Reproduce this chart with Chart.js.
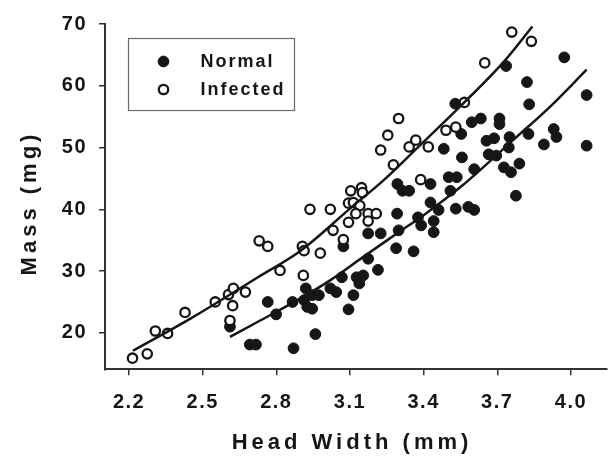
<!DOCTYPE html>
<html>
<head>
<meta charset="utf-8">
<script src="https://cdn.jsdelivr.net/npm/chart.js@4/dist/chart.umd.min.js"></script>
<style>
  html, body { margin: 0; padding: 0; background: #fff; }
</style>
</head>
<body>
<canvas id="chart" width="614" height="461"></canvas>
<script>
const xTicks = [2.2, 2.5, 2.8, 3.1, 3.4, 3.7, 4.0]
const yTicks = [20, 30, 40, 50, 60, 70]

// Normal (filled circles)
const normalX = [2.611, 2.692, 2.717, 2.765, 2.799, 2.866, 2.870, 2.913, 2.920, 2.926,
  2.946, 2.946, 2.959, 2.973, 3.020, 3.044, 3.067, 3.073, 3.094, 3.114,
  3.127, 3.138, 3.154, 3.174, 3.174, 3.214, 3.225, 3.288, 3.292, 3.298,
  3.293, 3.314, 3.341, 3.359, 3.377, 3.390, 3.428, 3.428, 3.441, 3.441,
  3.461, 3.482, 3.502, 3.509, 3.529, 3.531, 3.535, 3.553, 3.556, 3.582,
  3.596, 3.606, 3.606, 3.633, 3.656, 3.665, 3.687, 3.696, 3.709, 3.709,
  3.727, 3.736, 3.747, 3.750, 3.756, 3.776, 3.790, 3.821, 3.827, 3.830,
  3.890, 3.930, 3.941, 3.973, 4.064, 4.064]
const normalY = [21.0, 18.1, 18.1, 25.0, 23.0, 25.0, 17.5, 25.3, 27.2, 24.2,
  23.9, 26.1, 19.8, 26.1, 27.2, 26.6, 29.0, 34.0, 23.8, 26.1,
  29.0, 28.0, 29.3, 32.0, 36.1, 30.2, 36.1, 33.7, 39.3, 36.6,
  44.1, 43.0, 43.0, 33.2, 38.7, 37.4, 44.1, 41.1, 38.1, 36.3,
  39.9, 49.8, 45.2, 43.0, 57.1, 40.1, 45.2, 52.2, 48.4, 40.4,
  54.1, 46.5, 39.9, 54.7, 51.1, 48.9, 51.5, 48.7, 54.7, 53.8,
  46.8, 63.2, 50.0, 51.7, 46.0, 42.2, 47.4, 60.6, 52.2, 57.0,
  50.5, 53.0, 51.7, 64.6, 58.5, 50.3]

// Infected (open circles)
const infectedX = [2.214, 2.274, 2.307, 2.357, 2.428, 2.551, 2.605, 2.625, 2.622, 2.611,
  2.674, 2.730, 2.765, 2.815, 2.906, 2.913, 2.910, 2.937, 2.979, 3.020,
  3.031, 3.073, 3.103, 3.147, 3.151, 3.094, 3.114, 3.140, 3.124, 3.094,
  3.174, 3.174, 3.207, 3.388, 3.298, 3.254, 3.225, 3.341, 3.368, 3.277,
  3.419, 3.491, 3.531, 3.566, 3.649, 3.759, 3.839]
const infectedY = [15.9, 16.6, 20.3, 19.9, 23.3, 25.0, 26.2, 27.2, 24.4, 22.0,
  26.6, 34.9, 34.0, 30.1, 34.0, 33.3, 29.3, 40.0, 32.9, 40.0,
  36.6, 35.1, 43.0, 43.5, 42.7, 41.0, 41.1, 40.6, 39.3, 37.9,
  39.3, 38.1, 39.3, 44.8, 54.7, 52.0, 49.6, 50.1, 51.2, 47.2,
  50.1, 52.8, 53.3, 57.3, 63.7, 68.7, 67.2]

// fitted curves
const normalFitX = [2.611, 2.725, 2.886, 3.019, 3.154, 3.288, 3.408, 3.55, 3.77, 3.92, 4.064]
const normalFitY = [19.35, 21.8, 25.3, 28.5, 32.3, 36.0, 39.3, 43.6, 51.4, 56.8, 62.6]
const infectedFitX = [2.216, 2.45, 2.725, 2.899, 3.114, 3.234, 3.368, 3.55, 3.729, 3.843]
const infectedFitY = [17.1, 22.3, 29.0, 33.3, 40.6, 44.6, 49.7, 56.7, 64.0, 69.6]

const FONT = '"Liberation Sans", Arial, Helvetica, sans-serif'
const INK = '#161616'

const toPoints = (xs, ys) => xs.map((x, i) => ({ x: x, y: ys[i] }))

const extras = {
  id: 'extras',
  beforeLayout(chart) {
    chart.ctx.letterSpacing = '1.5px'
  },
  beforeDraw(chart) {
    const c = chart.ctx
    c.save()
    c.fillStyle = '#fff'
    c.fillRect(0, 0, chart.width, chart.height)
    c.restore()
    c.letterSpacing = '1.5px'
  },
  afterDraw(chart) {
    const c = chart.ctx
    const area = chart.chartArea
    c.save()
    c.fillStyle = INK
    c.textBaseline = 'alphabetic'

    // axis titles
    c.font = 'bold 22px ' + FONT
    c.letterSpacing = '4px'
    c.textAlign = 'center'
    c.fillText('Head Width (mm)', chart.scales.x.getPixelForValue(3.1) + 2, 449)
    c.letterSpacing = '4px'
    c.translate(36, 203)
    c.rotate(-Math.PI / 2)
    c.fillText('Mass (mg)', 0, 0)
    c.restore()

    // legend box
    c.save()
    const lx = area.left + 23.5, ly = area.top + 14.5
    c.strokeStyle = '#6a6a6a'
    c.lineWidth = 1.2
    c.strokeRect(lx, ly, 166, 72)
    const rows = [
      { text: 'Normal', ds: chart.data.datasets[0], y: ly + 23 },
      { text: 'Infected', ds: chart.data.datasets[1], y: ly + 51 },
    ]
    c.font = 'bold 18px ' + FONT
    c.letterSpacing = '2px'
    c.textAlign = 'left'
    c.textBaseline = 'middle'
    rows.forEach(r => {
      c.beginPath()
      c.arc(lx + 35, r.y, r.ds.pointRadius, 0, Math.PI * 2)
      c.fillStyle = r.ds.backgroundColor
      c.fill()
      c.lineWidth = r.ds.borderWidth
      c.strokeStyle = r.ds.borderColor
      c.stroke()
      c.fillStyle = INK
      c.fillText(r.text, lx + 72, r.y + 1)
    })
    c.restore()
  },
}

const tickFont = { family: FONT, size: 20, weight: 'bold' }

const config = {
  type: 'scatter',
  data: {
    datasets: [
      {
        label: 'Normal',
        data: toPoints(normalX, normalY),
        pointRadius: 5.4,
        backgroundColor: INK,
        borderColor: INK,
        borderWidth: 1,
        order: 3,
      },
      {
        label: 'Infected',
        data: toPoints(infectedX, infectedY),
        pointRadius: 4.7,
        backgroundColor: '#fff',
        borderColor: INK,
        borderWidth: 2.3,
        order: 2,
      },
      {
        label: 'Normal fit',
        data: toPoints(normalFitX, normalFitY),
        showLine: true,
        pointRadius: 0,
        borderColor: INK,
        borderWidth: 2.5,
        cubicInterpolationMode: 'monotone',
        order: 1,
      },
      {
        label: 'Infected fit',
        data: toPoints(infectedFitX, infectedFitY),
        showLine: true,
        pointRadius: 0,
        borderColor: INK,
        borderWidth: 2.5,
        cubicInterpolationMode: 'monotone',
        order: 1,
      },
    ],
  },
  options: {
    responsive: false,
    animation: false,
    events: [],
    layout: { padding: { top: 23, right: 0, bottom: 0, left: 0 } },
    plugins: {
      legend: { display: false },
      tooltip: { enabled: false },
    },
    scales: {
      x: {
        type: 'linear',
        min: 2.102,
        max: 4.147,
        afterBuildTicks: s => { s.ticks = xTicks.map(v => ({ value: v })) },
        afterFit: s => { s.height = 91.7 },
        ticks: {
          color: INK,
          font: tickFont,
          padding: 15,
          maxRotation: 0,
          autoSkip: false,
          callback: v => v.toFixed(1),
        },
        grid: { drawOnChartArea: false, color: '#333', lineWidth: 1.5, tickLength: 6 },
        border: { color: '#333', width: 2 },
      },
      y: {
        type: 'linear',
        min: 14.1,
        max: 70,
        afterBuildTicks: s => { s.ticks = yTicks.map(v => ({ value: v })) },
        afterFit: s => { s.width = 105 },
        ticks: {
          color: INK,
          font: tickFont,
          padding: 12,
          autoSkip: false,
        },
        grid: { drawOnChartArea: false, color: '#333', lineWidth: 1.5, tickLength: 6 },
        border: { color: '#333', width: 2 },
      },
    },
  },
  plugins: [extras],
}

const massChart = new Chart(document.getElementById('chart'), config)
</script>
</body>
</html>
